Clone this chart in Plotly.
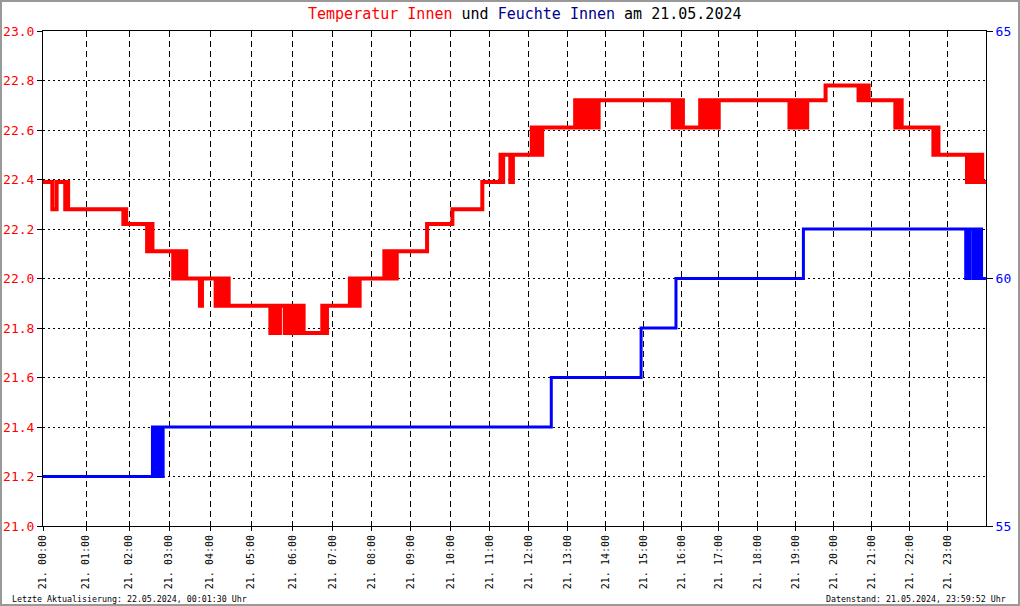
import numpy as np
import plotly.graph_objects as go

# ---------------- data ----------------
temp_times = [
    "00:00", "00:13", "00:19", "00:31", "00:33", "00:35", "01:52", "01:54", "01:56",
    "02:27", "02:29", "02:31", "02:33", "02:35",
    "03:06", "03:08", "03:10", "03:12", "03:14", "03:16", "03:18", "03:22", "03:25",
    "03:45", "03:48",
    "04:08", "04:10", "04:12", "04:14", "04:16", "04:21", "04:23", "04:25", "04:27",
    "05:28", "05:30", "05:32", "05:34", "05:36", "05:38", "05:40", "05:42", "05:45",
    "05:49", "05:51", "05:53", "05:55", "05:57", "05:59", "06:01", "06:03", "06:05",
    "06:07", "06:09", "06:11", "06:13", "06:15", "06:17",
    "06:45", "06:47", "06:49", "06:51", "06:52",
    "07:27", "07:29", "07:31", "07:33", "07:35", "07:37", "07:39", "07:41", "07:42",
    "08:20", "08:23", "08:28", "08:30", "08:32", "08:34", "08:36", "08:38", "08:39",
    "09:25", "10:03", "10:49",
    "11:17", "11:19", "11:21", "11:32", "11:36",
    "12:05", "12:07", "12:09", "12:11", "12:13", "12:15", "12:17", "12:19", "12:21",
    "13:12", "13:14", "13:15", "13:16", "13:17", "13:21", "13:23", "13:25", "13:27",
    "13:29", "13:31", "13:33", "13:35", "13:36", "13:40", "13:42", "13:44", "13:46",
    "13:48", "13:49",
    "15:46", "15:48", "15:50", "15:52", "15:54", "15:56", "15:58", "16:00", "16:02",
    "16:30", "16:32", "16:34", "16:35", "16:40", "16:42", "16:44", "16:46", "16:48",
    "16:50", "16:52", "16:54", "16:56", "16:58", "17:00",
    "18:50", "18:52", "18:54", "18:56", "18:58", "19:00", "19:01", "19:04", "19:06",
    "19:08", "19:10", "19:12", "19:14", "19:16", "19:18",
    "19:47",
    "20:39", "20:41", "20:43", "20:45", "20:47", "20:49", "20:51", "20:53", "20:55",
    "21:37", "21:39", "21:43", "21:45", "21:47",
    "22:37", "22:39", "22:41", "22:43", "22:45",
    "23:30", "23:32", "23:34", "23:35", "23:36", "23:38", "23:40", "23:41", "23:43",
    "23:45", "23:47", "23:49", "23:51", "23:53", "23:54", "23:59:52",
]
temp_values = [
    22.39, 22.28, 22.39, 22.28, 22.39, 22.28, 22.22, 22.28, 22.22,
    22.11, 22.22, 22.11, 22.22, 22.11,
    22.00, 22.11, 22.00, 22.11, 22.00, 22.11, 22.00, 22.11, 22.00,
    21.89, 22.00,
    21.89, 22.00, 21.89, 22.00, 21.89, 22.00, 21.89, 22.00, 21.89,
    21.78, 21.89, 21.78, 21.89, 21.78, 21.89, 21.78, 21.89, 21.89,
    21.78, 21.89, 21.78, 21.89, 21.78, 21.89, 21.78, 21.89, 21.78,
    21.89, 21.78, 21.89, 21.78, 21.89, 21.78,
    21.89, 21.78, 21.89, 21.78, 21.89,
    22.00, 21.89, 22.00, 21.89, 22.00, 21.89, 22.00, 21.89, 22.00,
    22.11, 22.00, 22.11, 22.00, 22.11, 22.00, 22.11, 22.00, 22.11,
    22.22, 22.28, 22.39,
    22.50, 22.39, 22.50, 22.39, 22.50,
    22.61, 22.50, 22.61, 22.50, 22.61, 22.50, 22.61, 22.50, 22.61,
    22.72, 22.61, 22.72, 22.61, 22.72, 22.61, 22.72, 22.61, 22.72,
    22.61, 22.72, 22.61, 22.72, 22.72, 22.61, 22.72, 22.61, 22.72,
    22.61, 22.72,
    22.61, 22.72, 22.61, 22.72, 22.61, 22.72, 22.61, 22.72, 22.61,
    22.72, 22.61, 22.72, 22.61, 22.72, 22.61, 22.72, 22.61, 22.72,
    22.61, 22.72, 22.61, 22.72, 22.61, 22.72,
    22.61, 22.72, 22.61, 22.72, 22.61, 22.72, 22.72, 22.61, 22.72,
    22.61, 22.72, 22.61, 22.72, 22.61, 22.72,
    22.78,
    22.72, 22.78, 22.72, 22.78, 22.72, 22.78, 22.72, 22.78, 22.72,
    22.61, 22.72, 22.61, 22.72, 22.61,
    22.50, 22.61, 22.50, 22.61, 22.50,
    22.39, 22.50, 22.39, 22.50, 22.39, 22.50, 22.39, 22.50, 22.39,
    22.50, 22.39, 22.50, 22.39, 22.50, 22.39, 22.39,
]

hum_times = [
    "00:00", "02:35", "02:37", "02:39", "02:41", "02:43", "02:45", "02:47", "02:49", "02:51",
    "12:35", "14:56", "15:51", "19:12",
    "23:28", "23:29", "23:31", "23:32", "23:34", "23:35", "23:40", "23:42", "23:44",
    "23:46", "23:48", "23:50", "23:53", "23:59:52",
]
hum_values = [
    56, 57, 56, 57, 56, 57, 56, 57, 56, 57,
    58, 59, 60, 61,
    60, 61, 60, 61, 60, 61, 60, 61, 60,
    61, 60, 61, 60, 60,
]

hour_labels = ["21. %02d:00" % h for h in range(24)]

# logger record index at the start of each hour (x axis runs by record, not uniform time)
hour_record_index = [0, 43, 86, 126, 167, 208, 249, 289, 328, 367, 407, 446, 485,
                     524, 562, 600, 638, 675, 714, 752, 790, 828, 866, 904, 942]


def to_hours(t):
    p = [int(v) for v in t.split(":")]
    while len(p) < 3:
        p.append(0)
    return p[0] + p[1] / 60 + p[2] / 3600


def to_x(times):
    h = np.array([to_hours(t) for t in times])
    return np.interp(h, np.arange(25), hour_record_index)


MONO = "DejaVu Sans Mono"
RED = "#FF0000"
BLUE = "#0000FF"

fig = go.Figure()
fig.add_trace(go.Scatter(
    x=to_x(temp_times), y=temp_values, mode="lines",
    line=dict(color=RED, width=4, shape="hv"), name="Temperatur Innen",
))
fig.add_trace(go.Scatter(
    x=to_x(hum_times), y=hum_values, mode="lines", yaxis="y2",
    line=dict(color=BLUE, width=3, shape="hv"), name="Feuchte Innen",
))

L, R, T, B = 43, 34, 31, 80
W, H = 1020, 606
pw, ph = W - L - R, H - T - B


def px_x(px):
    return (px - L) / pw


def px_y(py):
    return (H - B - py) / ph


fig.update_layout(
    width=W, height=H,
    margin=dict(l=L, r=R, t=T, b=B, pad=0, autoexpand=False),
    paper_bgcolor="white", plot_bgcolor="white",
    showlegend=False,
    font=dict(family=MONO, color="black"),
    xaxis=dict(
        range=[hour_record_index[0], hour_record_index[-1]], automargin=False,
        tickmode="array", tickvals=hour_record_index[:24], ticktext=hour_labels,
        tickangle=-90, tickfont=dict(family=MONO, size=10, color="black"),
        showgrid=True, gridcolor="black", gridwidth=1, griddash="6px,4px",
        showline=True, linecolor="black", linewidth=1, mirror=True,
        ticks="outside", ticklen=4, tickcolor="black", zeroline=False,
    ),
    yaxis=dict(
        range=[21.0, 23.0], dtick=0.2, tick0=21.0, tickformat=".1f", automargin=False,
        tickfont=dict(family=MONO, size=13, color=RED),
        showgrid=True, gridcolor="black", gridwidth=1, griddash="2px,3px",
        showline=True, linecolor="black", linewidth=1, mirror=True,
        ticks="outside", ticklen=5, tickcolor="black", zeroline=False,
    ),
    yaxis2=dict(
        range=[55, 65], overlaying="y", side="right", automargin=False,
        tickmode="array", tickvals=[55, 60, 65],
        tickfont=dict(family=MONO, size=13, color=BLUE),
        showgrid=False, showline=True, linecolor="black", linewidth=1,
        ticks="outside", ticklen=6, tickcolor="black", zeroline=False,
    ),
)

fig.add_annotation(
    xref="paper", yref="paper", x=px_x(525), y=px_y(13.5),
    xanchor="center", yanchor="middle", showarrow=False,
    text=("<span style='color:#FF0000'>Temperatur Innen</span> und "
          "<span style='color:#00008B'>Feuchte Innen</span> am 21.05.2024"),
    font=dict(family=MONO, size=15, color="black"),
)
fig.add_annotation(
    xref="paper", yref="paper", x=px_x(10), y=px_y(599),
    xanchor="left", yanchor="middle", showarrow=False,
    text="Letzte Aktualisierung: 22.05.2024, 00:01:30 Uhr",
    font=dict(family=MONO, size=8.3, color="black"),
)
fig.add_annotation(
    xref="paper", yref="paper", x=px_x(1008), y=px_y(599),
    xanchor="right", yanchor="middle", showarrow=False,
    text="Datenstand: 21.05.2024, 23:59:52 Uhr",
    font=dict(family=MONO, size=8.3, color="black"),
)
fig.add_shape(
    type="rect", xref="paper", yref="paper",
    x0=px_x(1), x1=px_x(1019), y0=px_y(605), y1=px_y(1),
    line=dict(color="#999999", width=2), fillcolor="rgba(0,0,0,0)", layer="above",
)

fig.write_html(
    "out.html",
    config={"displayModeBar": False},
    post_script="document.documentElement.style.margin='0';"
                "document.body.style.margin='0';document.body.style.overflow='hidden';",
)
